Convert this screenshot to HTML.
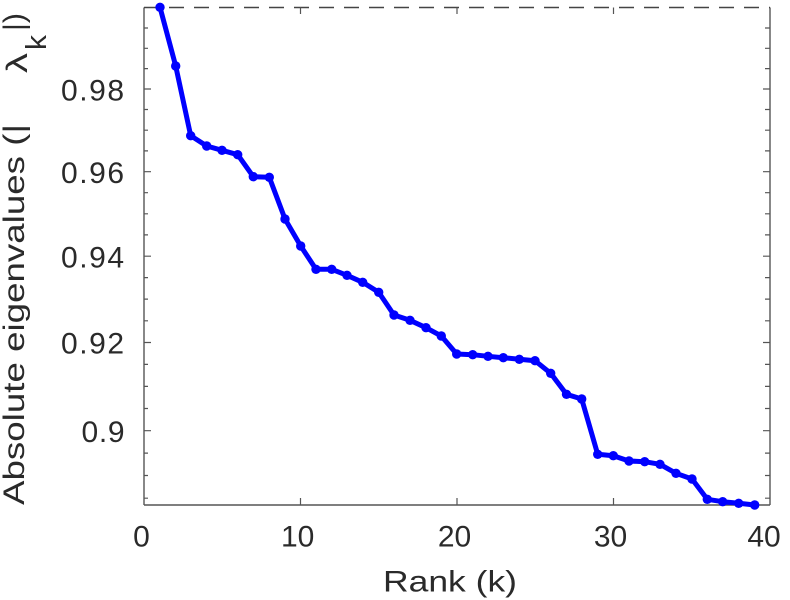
<!DOCTYPE html>
<html>
<head>
<meta charset="utf-8">
<style>
html,body{margin:0;padding:0;background:#fff;}
svg{display:block;}
text{font-family:"Liberation Sans","DejaVu Sans",sans-serif;fill:#2a2a2a;}
</style>
</head>
<body>
<svg width="790" height="600" viewBox="0 0 790 600" xmlns="http://www.w3.org/2000/svg">
<rect x="0" y="0" width="790" height="600" fill="#fff"/>
<g stroke="#555" stroke-width="1.4" fill="none">
<line x1="144" y1="505" x2="770" y2="505"/>
<line x1="144" y1="7.5" x2="144" y2="505"/>
<line x1="770" y1="7.5" x2="770" y2="505"/>
<line x1="144" y1="7.5" x2="770" y2="7.5" stroke-dasharray="15,10" stroke="#444"/>
</g>
<g stroke="#555" stroke-width="1.2">
<path d="M144 89h7M144 171.7h7M144 256.2h7M144 342.5h7M144 430.7h7"/>
<path d="M770 89h-7M770 171.7h-7M770 256.2h-7M770 342.5h-7M770 430.7h-7"/>
<path d="M144 28h4M144 48.3h4M144 68.6h4M144 109.5h4M144 130.2h4M144 150.9h4M144 192.7h4M144 213.8h4M144 234.9h4M144 277.6h4M144 299.1h4M144 320.8h4M144 364.4h4M144 386.4h4M144 408.5h4M144 453.1h4M144 475.5h4M144 498.2h4"/>
<path d="M770 28h-5M770 48.3h-5M770 68.6h-5M770 109.5h-5M770 130.2h-5M770 150.9h-5M770 192.7h-5M770 213.8h-5M770 234.9h-5M770 277.6h-5M770 299.1h-5M770 320.8h-5M770 364.4h-5M770 386.4h-5M770 408.5h-5M770 453.1h-5M770 475.5h-5M770 498.2h-5"/>
<path d="M300.5 505v-7M457 505v-7M613.5 505v-7M300.5 7.5v6.5M457 7.5v6.5M613.5 7.5v6.5"/>
</g>
<g font-size="30" text-anchor="end">
<text x="124" y="100.5" textLength="63" lengthAdjust="spacing">0.98</text>
<text x="124" y="183" textLength="63" lengthAdjust="spacing">0.96</text>
<text x="124" y="267.5" textLength="63" lengthAdjust="spacing">0.94</text>
<text x="124" y="353.5" textLength="63" lengthAdjust="spacing">0.92</text>
<text x="124.5" y="442" textLength="43" lengthAdjust="spacing">0.9</text>
</g>
<g font-size="30" text-anchor="middle">
<text x="141.5" y="546.5">0</text>
<text x="297.7" y="546.5">10</text>
<text x="454.5" y="546.5">20</text>
<text x="610.5" y="546.5">30</text>
<text x="764" y="546.5">40</text>
</g>
<text x="383" y="591.5" font-size="30" textLength="134" lengthAdjust="spacingAndGlyphs">Rank (k)</text>
<g transform="translate(24,505) rotate(-90)" font-size="30">
<text x="0" y="0" textLength="381" lengthAdjust="spacingAndGlyphs">Absolute eigenvalues (|</text>
<text x="432" y="3" textLength="20" lengthAdjust="spacingAndGlyphs">λ</text>
<text x="455" y="22" font-size="29" textLength="15" lengthAdjust="spacingAndGlyphs">k</text>
<text x="474" y="0" textLength="18" lengthAdjust="spacingAndGlyphs">|)</text>
</g>
<polyline fill="none" stroke="#0000ff" stroke-width="5" stroke-linejoin="round" stroke-linecap="round" points="160,7.3 175.7,66 190.7,135.7 206.7,146 222,150.3 237.7,154.7 253.3,176.7 269.3,177.3 285,219 300.7,246 316,269.3 331.7,269.3 347,275.3 362.7,282.3 378.7,292.3 394,315 410,320.3 426,327.7 441.3,336 456.7,354 472.7,354.7 488,356.3 503.3,357.7 519.3,359.3 535,360.7 550.7,373.3 566.5,394.3 581.7,399 597.7,454.3 613.3,455.7 629,461 644.7,461.7 660,464.3 676,473.3 692,479 707.3,499.3 722.7,501.7 738.7,503.3 754.7,505"/>
<g fill="#0000ff">
<circle cx="160" cy="7.3" r="4.7"/><circle cx="175.7" cy="66" r="4.7"/><circle cx="190.7" cy="135.7" r="4.7"/><circle cx="206.7" cy="146" r="4.7"/><circle cx="222" cy="150.3" r="4.7"/>
<circle cx="237.7" cy="154.7" r="4.7"/><circle cx="253.3" cy="176.7" r="4.7"/><circle cx="269.3" cy="177.3" r="4.7"/><circle cx="285" cy="219" r="4.7"/><circle cx="300.7" cy="246" r="4.7"/>
<circle cx="316" cy="269.3" r="4.7"/><circle cx="331.7" cy="269.3" r="4.7"/><circle cx="347" cy="275.3" r="4.7"/><circle cx="362.7" cy="282.3" r="4.7"/><circle cx="378.7" cy="292.3" r="4.7"/>
<circle cx="394" cy="315" r="4.7"/><circle cx="410" cy="320.3" r="4.7"/><circle cx="426" cy="327.7" r="4.7"/><circle cx="441.3" cy="336" r="4.7"/><circle cx="456.7" cy="354" r="4.7"/>
<circle cx="472.7" cy="354.7" r="4.7"/><circle cx="488" cy="356.3" r="4.7"/><circle cx="503.3" cy="357.7" r="4.7"/><circle cx="519.3" cy="359.3" r="4.7"/><circle cx="535" cy="360.7" r="4.7"/>
<circle cx="550.7" cy="373.3" r="4.7"/><circle cx="566.5" cy="394.3" r="4.7"/><circle cx="581.7" cy="399" r="4.7"/><circle cx="597.7" cy="454.3" r="4.7"/><circle cx="613.3" cy="455.7" r="4.7"/>
<circle cx="629" cy="461" r="4.7"/><circle cx="644.7" cy="461.7" r="4.7"/><circle cx="660" cy="464.3" r="4.7"/><circle cx="676" cy="473.3" r="4.7"/><circle cx="692" cy="479" r="4.7"/>
<circle cx="707.3" cy="499.3" r="4.7"/><circle cx="722.7" cy="501.7" r="4.7"/><circle cx="738.7" cy="503.3" r="4.7"/><circle cx="754.7" cy="505" r="4.7"/>
</g>
</svg>
</body>
</html>
